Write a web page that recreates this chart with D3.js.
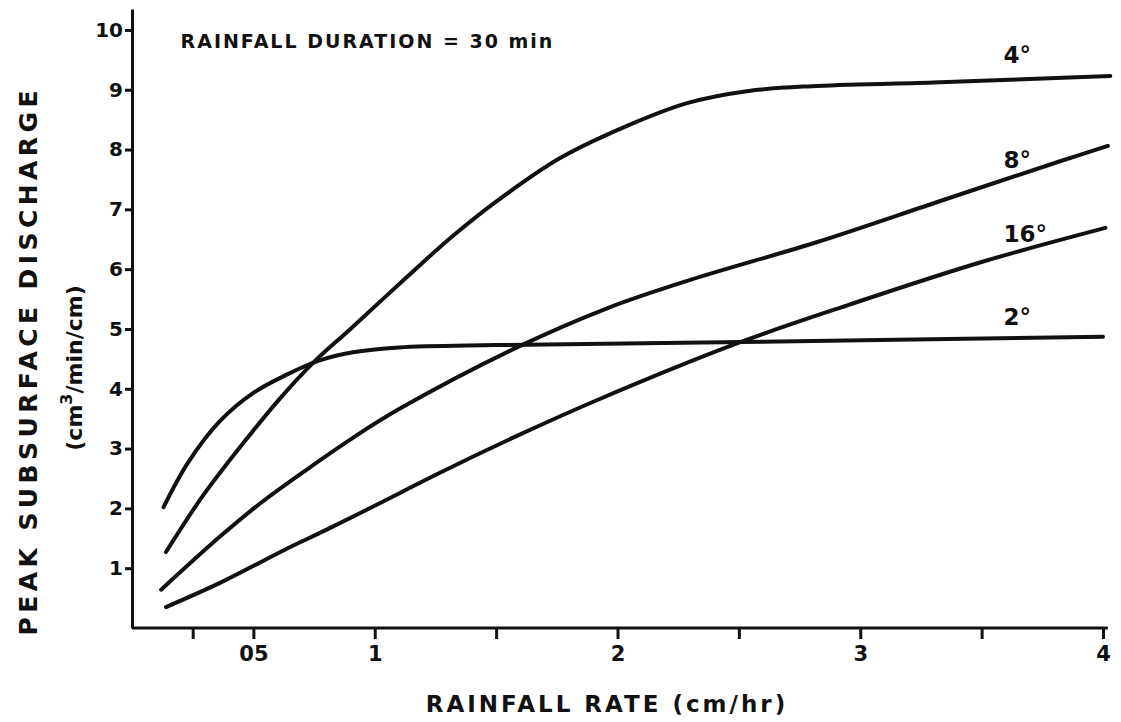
<!DOCTYPE html>
<html>
<head>
<meta charset="utf-8">
<script src="https://cdn.jsdelivr.net/npm/d3@7"></script>
<style>
  body { margin: 0; background: #fff; }
  svg { display: block; }
  text { font-family: 'DejaVu Sans', sans-serif; font-weight: bold; fill: #111; }
  .axis path, .axis line { stroke: #111; stroke-width: 3; }
  .curve { fill: none; stroke: #111; stroke-width: 4; stroke-linecap: round; stroke-linejoin: round; }
</style>
</head>
<body>
<svg id="graph" width="1121" height="722"></svg>
<script>
// slopes and values (rainfall rate cm/hr, discharge cm3/min/cm)
const slopes = ['2°', '4°', '8°', '16°'];

const rate2 = [0.13, 0.23, 0.36, 0.50, 0.64, 0.77, 0.91, 1.10, 1.5, 2.5, 4.0];
const flow2 = [2.02, 2.76, 3.45, 3.93, 4.24, 4.47, 4.61, 4.69, 4.73, 4.78, 4.87];

const rate4 = [0.14, 0.29, 0.46, 0.61, 0.75, 0.9, 1.13, 1.32, 1.5, 1.76, 2.03, 2.29, 2.54, 2.8, 3.3, 4.03];
const flow4 = [1.27, 2.2, 3.1, 3.84, 4.45, 5.0, 5.86, 6.55, 7.13, 7.85, 8.38, 8.78, 8.98, 9.06, 9.12, 9.23];

const rate8 = [0.12, 0.36, 0.53, 0.72, 0.91, 1.10, 1.59, 1.96, 2.3, 2.82, 3.33, 3.82, 4.02];
const flow8 = [0.64, 1.52, 2.09, 2.65, 3.18, 3.66, 4.7, 5.35, 5.82, 6.45, 7.14, 7.8, 8.06];

const rate16 = [0.14, 0.36, 0.64, 0.8, 1.1, 1.26, 1.59, 1.91, 2.5, 2.95, 3.5, 4.01];
const flow16 = [0.35, 0.75, 1.33, 1.64, 2.25, 2.58, 3.22, 3.8, 4.77, 5.4, 6.12, 6.69];

const xTickValues = [0.25, 0.5, 1, 1.5, 2, 2.5, 3, 3.5, 4];
const xTickLabels = ['', '05', '1', '', '2', '', '3', '', '4'];
const yTickValues = [1, 2, 3, 4, 5, 6, 7, 8, 9, 10];

const series = [
  { name: slopes[0], rate: rate2, flow: flow2 },
  { name: slopes[1], rate: rate4, flow: flow4 },
  { name: slopes[2], rate: rate8, flow: flow8 },
  { name: slopes[3], rate: rate16, flow: flow16 },
];

const margin = { top: 9, left: 132 };
const width = 971;
const height = 619;

const svg = d3.select('#graph')
  .append('g')
    .attr('transform', `translate(${margin.left},${margin.top})`);

const x = d3.scaleLinear().domain([0, 4]).range([0, width]);
const y = d3.scaleLinear().domain([0, 10.35]).range([height, 0]);

const xAxis = d3.axisBottom(x)
  .tickValues(xTickValues)
  .tickFormat((d, i) => xTickLabels[i])
  .tickSize(11)
  .tickSizeOuter(0)
  .tickPadding(7);

const yAxis = d3.axisLeft(y)
  .tickValues(yTickValues)
  .tickSize(7)
  .tickSizeOuter(0)
  .tickPadding(2);

const gx = svg.append('g')
    .attr('class', 'axis axis--x')
    .attr('transform', `translate(0,${height})`)
    .call(xAxis);
gx.select('.domain').attr('d', `M0,0H${x(4.02)}`);
gx.selectAll('text').style('font-size', '21px');

const gy = svg.append('g')
    .attr('class', 'axis axis--y')
    .call(yAxis);
gy.selectAll('text').style('font-size', '20px');

const line = d3.line()
  .x(d => x(d[0]))
  .y(d => y(d[1]))
  .curve(d3.curveCatmullRom.alpha(0.5));

svg.selectAll('.curve')
    .data(series)
  .enter().append('path')
    .attr('class', 'curve')
    .attr('d', s => line(s.rate.map((r, i) => [r, s.flow[i]])));

// slope labels sit above the right end of each curve
const labelAt = { '4°': 9.45, '8°': 7.69, '16°': 6.45, '2°': 5.07 };
svg.selectAll('.slope')
    .data(series)
  .enter().append('text')
    .attr('class', 'slope')
    .attr('x', x(3.59))
    .attr('y', s => y(labelAt[s.name]))
    .style('font-size', '23px')
    .text(s => s.name);

svg.append('text')
    .attr('x', x(0.2))
    .attr('y', y(9.7))
    .style('font-size', '19px')
    .style('letter-spacing', '2px')
    .text('RAINFALL DURATION = 30 min');

d3.select('#graph').append('text')
    .attr('text-anchor', 'middle')
    .attr('x', 607)
    .attr('y', 712)
    .style('font-size', '23px')
    .style('letter-spacing', '3px')
    .text('RAINFALL RATE (cm/hr)');

d3.select('#graph').append('text')
    .attr('text-anchor', 'middle')
    .attr('transform', 'translate(37,363) rotate(-90)')
    .style('font-size', '25px')
    .attr('textLength', 545)
    .text('PEAK SUBSURFACE DISCHARGE');

const unit = d3.select('#graph').append('text')
    .attr('text-anchor', 'middle')
    .attr('transform', 'translate(82,368) rotate(-90)')
    .style('font-size', '22px');
unit.append('tspan').text('(cm');
unit.append('tspan').attr('dy', -10).style('font-size', '16px').text('3');
unit.append('tspan').attr('dy', 10).text('/min/cm)');
</script>
</body>
</html>
